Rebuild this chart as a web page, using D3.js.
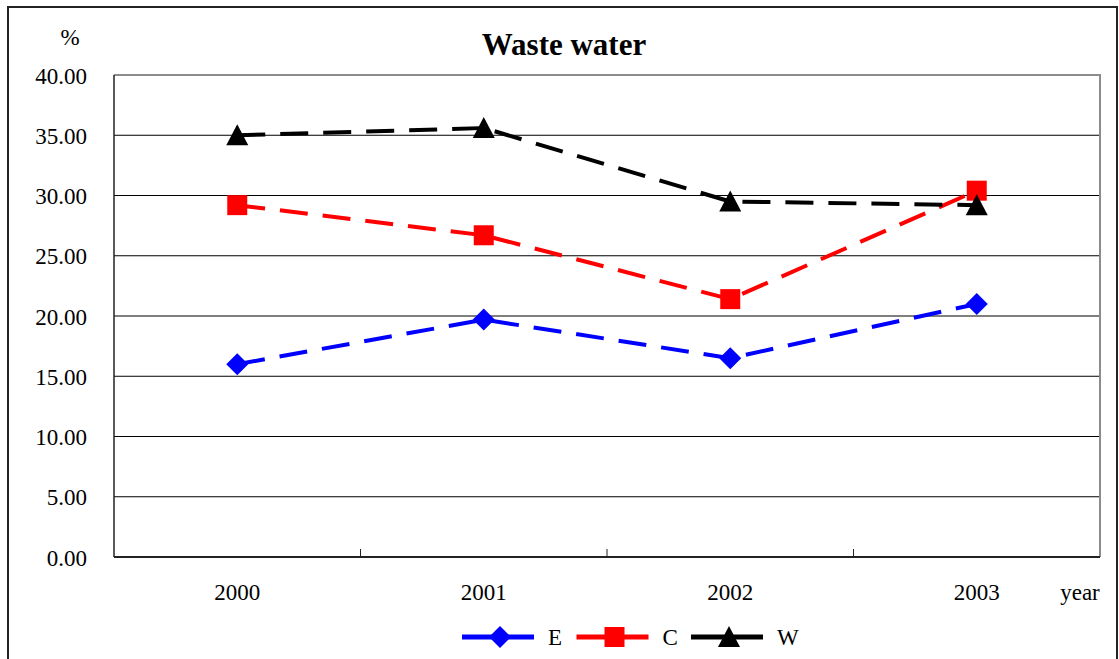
<!DOCTYPE html>
<html lang="en">
    <head>
        <meta charset="utf-8">
        <title>Waste water</title>
        <script type="text/javascript" src="https://cdnjs.cloudflare.com/ajax/libs/d3/7.8.5/d3.min.js"></script>
        <style type="text/css">
            body { margin: 0; background: #fff; }
            text { font-family: "Liberation Serif", "Times New Roman", serif; fill: #000; }
        </style>
    </head>
    <body>
        <script type="text/javascript">
            var w = 1119;
            var h = 659;

            var years = ["2000", "2001", "2002", "2003"];
            var seriesE = [16.0, 19.7, 16.5, 21.0];
            var seriesC = [29.2, 26.7, 21.4, 30.4];
            var seriesW = [35.0, 35.6, 29.5, 29.2];
            var yTicks = [0, 5, 10, 15, 20, 25, 30, 35, 40];

            var series = [
                { name: "E", values: seriesE, color: "#0000ff", shape: "diamond" },
                { name: "C", values: seriesC, color: "#ff0000", shape: "square" },
                { name: "W", values: seriesW, color: "#000000", shape: "triangle" }
            ];

            var pLeft = 114, pRight = 1100, pTop = 75, pBottom = 557;

            var svg = d3.select("body")
                        .append("svg")
                        .attr("width", w)
                        .attr("height", h);

            // outer frame
            svg.append("rect")
               .attr("x", 8).attr("y", 7)
               .attr("width", 1109).attr("height", 700)
               .attr("fill", "none")
               .attr("stroke", "#222")
               .attr("stroke-width", 2);

            var x = d3.scaleBand().domain(years).range([pLeft, pRight]);
            var y = d3.scaleLinear().domain([0, 40]).range([pBottom, pTop]);

            function cx(i) { return x(years[i]) + x.bandwidth() / 2; }

            // grid lines
            svg.selectAll("line.grid")
               .data(yTicks.slice(1, -1))
               .enter()
               .append("line")
               .attr("class", "grid")
               .attr("x1", pLeft).attr("x2", pRight)
               .attr("y1", function (d) { return y(d); })
               .attr("y2", function (d) { return y(d); })
               .attr("stroke", "#000")
               .attr("stroke-width", 1);

            // top / right border (gray)
            svg.append("path")
               .attr("d", "M" + pLeft + "," + y(40) + "H" + pRight + "V" + pBottom)
               .attr("fill", "none")
               .attr("stroke", "#8c8c8c")
               .attr("stroke-width", 2);

            // y axis
            var yAxis = d3.axisLeft(y)
                          .tickValues(yTicks)
                          .tickFormat(d3.format(".2f"))
                          .tickSize(0)
                          .tickPadding(27);
            var gy = svg.append("g")
                        .attr("transform", "translate(" + pLeft + ",0)")
                        .call(yAxis);
            gy.select(".domain").remove();
            gy.selectAll("text")
              .style("font-family", "Liberation Serif")
              .style("font-size", "23px")
              .attr("dy", "0.35em");

            svg.append("line")
               .attr("x1", pLeft).attr("x2", pLeft)
               .attr("y1", pTop).attr("y2", pBottom)
               .attr("stroke", "#222").attr("stroke-width", 1.5);

            // x axis
            svg.append("line")
               .attr("x1", pLeft).attr("x2", pRight)
               .attr("y1", pBottom).attr("y2", pBottom)
               .attr("stroke", "#222").attr("stroke-width", 1.8);

            svg.selectAll("line.xtick")
               .data(years.slice(1))
               .enter()
               .append("line")
               .attr("class", "xtick")
               .attr("x1", function (d) { return x(d); })
               .attr("x2", function (d) { return x(d); })
               .attr("y1", pBottom).attr("y2", pBottom - 8)
               .attr("stroke", "#222").attr("stroke-width", 1);

            svg.selectAll("text.xlab")
               .data(years)
               .enter()
               .append("text")
               .attr("class", "xlab")
               .attr("x", function (d) { return x(d) + x.bandwidth() / 2; })
               .attr("y", 600)
               .attr("text-anchor", "middle")
               .style("font-size", "23px")
               .text(function (d) { return d; });

            svg.append("text")
               .attr("x", 1080).attr("y", 600)
               .attr("text-anchor", "middle")
               .style("font-size", "23px")
               .text("year");

            svg.append("text")
               .attr("x", 70).attr("y", 45)
               .attr("text-anchor", "middle")
               .style("font-size", "23px")
               .text("%");

            svg.append("text")
               .attr("x", 564).attr("y", 55)
               .attr("text-anchor", "middle")
               .style("font-size", "31px")
               .style("font-weight", "bold")
               .text("Waste water");

            function marker(shape) {
                if (shape == "diamond") return "M0,-11L11,0L0,11L-11,0Z";
                if (shape == "square") return "M-10,-10H10V10H-10Z";
                return "M0,-11L11,10H-11Z";
            }

            var line = d3.line()
                         .x(function (d, i) { return cx(i); })
                         .y(function (d) { return y(d); });

            series.forEach(function (s) {
                svg.append("path")
                   .datum(s.values)
                   .attr("d", line)
                   .attr("fill", "none")
                   .attr("stroke", s.color)
                   .attr("stroke-width", 4)
                   .attr("stroke-dasharray", "28,15");
            });

            series.forEach(function (s) {
                svg.selectAll("path.m" + s.name)
                   .data(s.values)
                   .enter()
                   .append("path")
                   .attr("class", "m" + s.name)
                   .attr("transform", function (d, i) { return "translate(" + cx(i) + "," + y(d) + ")"; })
                   .attr("d", marker(s.shape))
                   .attr("fill", s.color);
            });

            // legend
            var lg = svg.selectAll("g.legend")
                        .data(series)
                        .enter()
                        .append("g")
                        .attr("class", "legend")
                        .attr("transform", function (d, i) { return "translate(" + (462 + i * 114.5) + ",637)"; });
            lg.append("line")
              .attr("x1", 0).attr("x2", 72)
              .attr("y1", 0).attr("y2", 0)
              .attr("stroke", function (d) { return d.color; })
              .attr("stroke-width", 5);
            lg.append("path")
              .attr("transform", "translate(38,0)")
              .attr("d", function (d) { return marker(d.shape); })
              .attr("fill", function (d) { return d.color; });
            lg.append("text")
              .attr("x", 86).attr("y", 8)
              .style("font-size", "23px")
              .text(function (d) { return d.name; });
        </script>
    </body>
</html>
